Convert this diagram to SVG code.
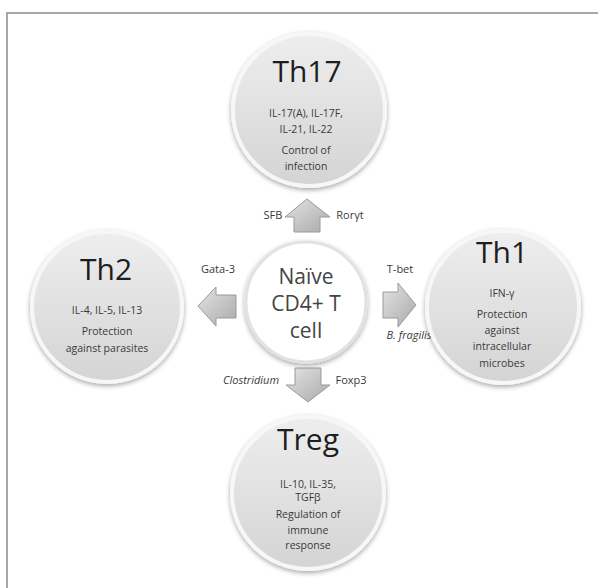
<svg xmlns="http://www.w3.org/2000/svg" width="598" height="588" viewBox="0 0 598 588">
<defs>
<linearGradient id="cg" x1="0" y1="0" x2="0" y2="1">
<stop offset="0" stop-color="#eeeeee"/>
<stop offset="1" stop-color="#d4d4d4"/>
</linearGradient>
<linearGradient id="ag" x1="0" y1="0" x2="1" y2="1">
<stop offset="0" stop-color="#e4e4e4"/>
<stop offset="1" stop-color="#a9a9a9"/>
</linearGradient>
<filter id="sh" x="-20%" y="-20%" width="140%" height="140%">
<feGaussianBlur in="SourceAlpha" stdDeviation="2.5"/>
<feOffset dx="0" dy="2" result="b"/>
<feComponentTransfer><feFuncA type="linear" slope="0.35"/></feComponentTransfer>
<feMerge><feMergeNode/><feMergeNode in="SourceGraphic"/></feMerge>
</filter>
</defs>
<style>
.outer{fill:url(#cg);stroke:#f7f7f7;stroke-width:4;filter:url(#sh)}
.center{fill:#ffffff;stroke:#e2e2e2;stroke-width:3;filter:url(#sh)}
.arr{fill:url(#ag);stroke:#9a9a9a;stroke-width:1}
text{font-family:"Open Sans","Liberation Sans",sans-serif;text-anchor:middle;fill:#3a3a3a}
.title{font-size:30px;fill:#1e1e1e}
.sm{font-size:10.5px}
.ctr{font-size:21px;fill:#444}
.lbl{font-size:11px}
.it{font-style:italic}
</style>
<rect width="598" height="588" fill="#ffffff"/>
<path d="M7,588 V13 H598" fill="none" stroke="#a8a8a8" stroke-width="2"/>

<g id="connectors">
<path class="arr" d="M307,199 L330,217 L320,217 L320,232 L294,232 L294,217 L285,217 Z"/>
<path class="arr" d="M198,306 L216,287 L216,295 L236,295 L236,318 L216,318 L216,326 Z"/>
<path class="arr" d="M416,305 L398,283 L398,292 L383,292 L383,318 L398,318 L398,327 Z"/>
<path class="arr" d="M308,402 L330,385 L321,385 L321,368 L295,368 L295,385 L286,385 Z"/>
<text class="lbl" x="273" y="219">SFB</text>
<text class="lbl" x="350" y="219">Rorγt</text>
<text class="lbl" x="218" y="273">Gata-3</text>
<text class="lbl" x="400" y="273">T-bet</text>
<text class="lbl it" x="409" y="339">B. fragilis</text>
<text class="lbl it" x="251" y="384">Clostridium</text>
<text class="lbl" x="351" y="384">Foxp3</text>
</g>

<g id="th17">
<circle class="outer" cx="309" cy="110" r="76"/>
<text class="title" x="307" y="82">Th17</text>
<text class="sm" x="306" y="117">IL-17(A), IL-17F,</text>
<text class="sm" x="306" y="133">IL-21, IL-22</text>
<text class="sm" x="306" y="154">Control of</text>
<text class="sm" x="306" y="170">infection</text>
</g>

<g id="th2">
<circle class="outer" cx="107" cy="307" r="75"/>
<text class="title" x="106" y="280">Th2</text>
<text class="sm" x="107" y="314">IL-4, IL-5, IL-13</text>
<text class="sm" x="107" y="335">Protection</text>
<text class="sm" x="107" y="352">against parasites</text>
</g>

<g id="th1">
<circle class="outer" cx="503" cy="307" r="76"/>
<text class="title" x="502" y="263">Th1</text>
<text class="sm" x="502" y="297">IFN-γ</text>
<text class="sm" x="502" y="318">Protection</text>
<text class="sm" x="502" y="334">against</text>
<text class="sm" x="502" y="350">intracellular</text>
<text class="sm" x="502" y="367">microbes</text>
</g>

<g id="treg">
<circle class="outer" cx="308" cy="493" r="76"/>
<text class="title" x="308" y="450">Treg</text>
<text class="sm" x="308" y="488">IL-10, IL-35,</text>
<text class="sm" x="308" y="501">TGFβ</text>
<text class="sm" x="308" y="518">Regulation of</text>
<text class="sm" x="308" y="534">immune</text>
<text class="sm" x="308" y="549">response</text>
</g>

<g id="naive">
<circle class="center" cx="306" cy="302" r="60"/>
<text class="ctr" x="306" y="284">Naïve</text>
<text class="ctr" x="306" y="311">CD4+ T</text>
<text class="ctr" x="306" y="338">cell</text>
</g>
</svg>
